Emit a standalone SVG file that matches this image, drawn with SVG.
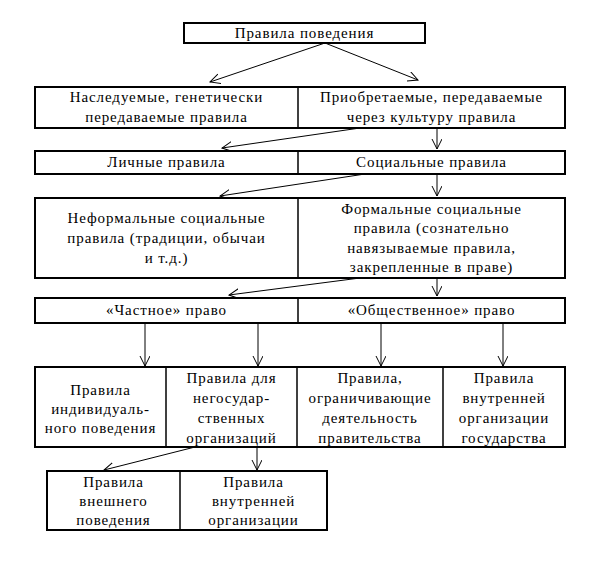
<svg xmlns="http://www.w3.org/2000/svg" width="595" height="587" viewBox="0 0 595 587">
<defs>
<marker id="ah" markerWidth="12" markerHeight="12" refX="10" refY="5" orient="auto" markerUnits="userSpaceOnUse">
<path d="M0,0 L10,5 L0,10" fill="none" stroke="#000" stroke-width="1"/>
</marker>
</defs>
<style>
.box{fill:#fff;stroke:#000;stroke-width:2}
.div{stroke:#000;stroke-width:1.5}
.t{font-family:'Liberation Serif','DejaVu Serif',serif;font-size:15px;letter-spacing:0.9px;fill:#000;text-anchor:middle;dominant-baseline:central}
.c line{stroke:#000;stroke-width:1;marker-end:url(#ah)}
</style>
<rect width="595" height="587" fill="#fff"/>
<g class="c" id="connectors">
<line x1="325" y1="43" x2="210" y2="82"/>
<line x1="325" y1="43" x2="418" y2="80"/>
<line x1="360" y1="128" x2="222" y2="148"/>
<line x1="437" y1="128" x2="437" y2="149"/>
<line x1="365" y1="174" x2="220" y2="196"/>
<line x1="437" y1="174" x2="437" y2="196"/>
<line x1="360" y1="278" x2="229" y2="295"/>
<line x1="437" y1="278" x2="437" y2="296"/>
<line x1="145" y1="323" x2="145" y2="366"/>
<line x1="258" y1="323" x2="258" y2="366"/>
<line x1="381" y1="323" x2="381" y2="366"/>
<line x1="503" y1="323" x2="503" y2="366"/>
<line x1="195" y1="447" x2="104" y2="470"/>
<line x1="257" y1="447" x2="257" y2="470"/>
</g>
<g id="n_top">
<rect class="box" x="184" y="23" width="241" height="20"/>
<text class="t" x="304.5" y="33">Правила поведения</text>
</g>
<g id="n_row2">
<rect class="box" x="35" y="87" width="530" height="41"/>
<line class="div" x1="298" y1="87" x2="298" y2="128"/>
<text class="t" x="166.5" y="97">Наследуемые, генетически</text>
<text class="t" x="166.5" y="117">передаваемые правила</text>
<text class="t" x="431.5" y="97">Приобретаемые, передаваемые</text>
<text class="t" x="431.5" y="117">через культуру правила</text>
</g>
<g id="n_row3">
<rect class="box" x="35" y="151" width="530" height="23"/>
<line class="div" x1="298" y1="151" x2="298" y2="174"/>
<text class="t" x="166.5" y="162">Личные правила</text>
<text class="t" x="431.5" y="162">Социальные правила</text>
</g>
<g id="n_row4">
<rect class="box" x="35" y="198" width="530" height="80"/>
<line class="div" x1="298" y1="198" x2="298" y2="278"/>
<text class="t" x="166.5" y="218">Неформальные социальные</text>
<text class="t" x="166.5" y="238">правила (традиции, обычаи</text>
<text class="t" x="166.5" y="258">и т.д.)</text>
<text class="t" x="431.5" y="209">Формальные социальные</text>
<text class="t" x="431.5" y="228">правила (сознательно</text>
<text class="t" x="431.5" y="248">навязываемые правила,</text>
<text class="t" x="431.5" y="267">закрепленные в праве)</text>
</g>
<g id="n_row5">
<rect class="box" x="35" y="298" width="530" height="25"/>
<line class="div" x1="298" y1="298" x2="298" y2="323"/>
<text class="t" x="166.5" y="310">«Частное» право</text>
<text class="t" x="431.5" y="310">«Общественное» право</text>
</g>
<g id="n_row6">
<rect class="box" x="35" y="367" width="530" height="80"/>
<line class="div" x1="166" y1="367" x2="166" y2="447"/>
<line class="div" x1="297" y1="367" x2="297" y2="447"/>
<line class="div" x1="443" y1="367" x2="443" y2="447"/>
<text class="t" x="100.5" y="390">Правила</text>
<text class="t" x="100.5" y="409">индивидуаль-</text>
<text class="t" x="100.5" y="428">ного поведения</text>
<text class="t" x="231.5" y="378">Правила для</text>
<text class="t" x="231.5" y="398">негосудар-</text>
<text class="t" x="231.5" y="418">ственных</text>
<text class="t" x="231.5" y="438">организаций</text>
<text class="t" x="370" y="378">Правила,</text>
<text class="t" x="370" y="398">ограничивающие</text>
<text class="t" x="370" y="418">деятельность</text>
<text class="t" x="370" y="438">правительства</text>
<text class="t" x="504" y="378">Правила</text>
<text class="t" x="504" y="398">внутренней</text>
<text class="t" x="504" y="418">организации</text>
<text class="t" x="504" y="438">государства</text>
</g>
<g id="n_row7">
<rect class="box" x="47" y="471" width="280" height="59"/>
<line class="div" x1="180" y1="471" x2="180" y2="530"/>
<text class="t" x="113.5" y="482">Правила</text>
<text class="t" x="113.5" y="501">внешнего</text>
<text class="t" x="113.5" y="520">поведения</text>
<text class="t" x="253.5" y="482">Правила</text>
<text class="t" x="253.5" y="501">внутренней</text>
<text class="t" x="253.5" y="520">организации</text>
</g>
</svg>
